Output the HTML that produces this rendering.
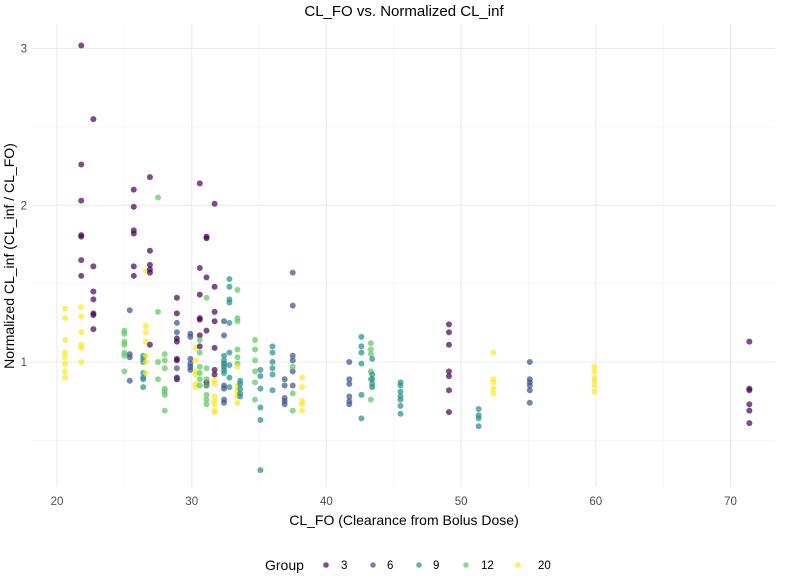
<!DOCTYPE html>
<html><head><meta charset="utf-8"><style>
body{margin:0;background:#fff;}
svg{font-family:"Liberation Sans",sans-serif;}
</style></head><body>
<svg id="chart" width="785" height="574" viewBox="0 0 785 574" xmlns="http://www.w3.org/2000/svg">
<text x="404" y="16" text-anchor="middle" font-size="15" fill="#000">CL_FO vs. Normalized CL_inf</text>
<g id="grid"></g>
<g id="pts"></g>
<g id="axes"></g>
<text x="404" y="525" text-anchor="middle" font-size="14" fill="#000">CL_FO (Clearance from Bolus Dose)</text>
<text transform="translate(14,256) rotate(-90)" text-anchor="middle" font-size="14" fill="#000">Normalized CL_inf (CL_inf / CL_FO)</text>
<g id="legend">
<text x="265" y="570" font-size="14" fill="#000">Group</text>
</g>
</svg>
<script>
const groupLabels=[3,6,9,12,20];
const groupColors=["#440154","#3b528b","#21908c","#5dc863","#fde725"];
const xTicks=[20,30,40,50,60,70];
const yTicks=[1,2,3];
const colX=[20.6,21.8,21.8,22.7,25,25.4,25.7,26.4,26.6,26.9,27.5,28,28.9,28.9,29.9,30.3,30.6,30.6,31.1,31.1,31.7,31.7,32.4,32.4,32.8,33.4,33.4,33.6,34.7,35.1,36,36.9,37.5,37.5,38.2,41.7,42.6,43.3,43.4,45.5,49.1,51.3,52.4,55.1,59.9,71.4];
const colGroup=[20,3,20,3,12,6,3,9,20,3,12,12,3,6,6,20,3,12,3,12,3,20,6,9,9,12,20,9,12,9,9,6,6,12,20,6,9,12,9,9,3,9,20,6,20,3];
const colYs=[
[1.34,1.28,1.14,1.06,1.03,0.99,0.94,0.9],
[3.02,2.26,2.03,1.81,1.8,1.65,1.55],
[1.35,1.29,1.19,1.11,1.09,1.0],
[2.55,1.61,1.45,1.4,1.31,1.3,1.21],
[1.2,1.18,1.13,1.11,1.06,1.04,0.94],
[1.33,1.05,1.03,0.88],
[2.1,1.99,1.84,1.82,1.61,1.55],
[1.04,1.02,1.0,0.93,0.9,0.89,0.84],
[1.58,1.23,1.19,1.13,1.04,1.0,0.93],
[2.18,1.71,1.62,1.59,1.57,1.11],
[2.05,1.32,1.0,0.89],
[1.05,1.01,0.96,0.83,0.81,0.79,0.69],
[1.41,1.31,1.15,1.13,1.02,1.01,0.9,0.89],
[1.25,1.19,0.96,0.89],
[1.18,1.16,1.02,0.99,0.97,0.95],
[1.09,1.01,0.94,0.92,0.86,0.84],
[2.14,1.6,1.43,1.28,1.27,1.17,1.1],
[1.14,1.06,0.97,0.93,0.89,0.85],
[1.8,1.79,1.54,1.2,0.87,0.85],
[1.41,0.96,0.89,0.85,0.79,0.76,0.73],
[2.01,1.48,1.32,1.26,1.09,0.95,0.92],
[0.88,0.86,0.78,0.75,0.73,0.69,0.68],
[1.26,1.17,0.99,0.85,0.83,0.76,0.74],
[1.04,1.01,0.97,0.95,0.93],
[1.53,1.48,1.4,1.38,1.25,1.06,0.98,0.9,0.84],
[1.46,1.28,1.26,1.08,1.03,0.99],
[0.97,0.85,0.82,0.8,0.78,0.74],
[0.88,0.86,0.83,0.8,0.78],
[1.14,1.08,1.01,0.94,0.87,0.76],
[0.95,0.91,0.83,0.71,0.63,0.31],
[1.1,1.06,1.0,0.96,0.92,0.82],
[0.89,0.85,0.77,0.75,0.73],
[1.57,1.36,1.04,1.01,0.94,0.85],
[0.97,0.8,0.69],
[0.9,0.84,0.75,0.73,0.69],
[1.0,0.89,0.86,0.78,0.75,0.73],
[1.16,1.1,1.06,0.99,0.79,0.64],
[1.12,1.08,1.05,0.94,0.89,0.76],
[1.02,0.92,0.89,0.86,0.84],
[0.87,0.85,0.81,0.78,0.76,0.72,0.67],
[1.24,1.19,1.11,0.94,0.91,0.82,0.68],
[0.7,0.66,0.64,0.59],
[1.06,0.89,0.87,0.83,0.8],
[1.0,0.89,0.87,0.85,0.82,0.74],
[0.97,0.94,0.9,0.88,0.85,0.81],
[1.13,0.83,0.82,0.73,0.69,0.61]
];
const NS="http://www.w3.org/2000/svg";
const L=32,R=775,T=24,B=487;
function sx(v){return 57+(v-20)*13.47;}
function sy(v){return 362-(v-1)*156.7;}
function mk(tag,attrs,parent){const e=document.createElementNS(NS,tag);for(const k in attrs)e.setAttribute(k,attrs[k]);parent.appendChild(e);return e;}
const grid=document.getElementById('grid'),axes=document.getElementById('axes'),pts=document.getElementById('pts'),leg=document.getElementById('legend');
for(let i=0;i<xTicks.length-1;i++){const v=(xTicks[i]+xTicks[i+1])/2;
 const l=mk('line',{x1:sx(v),x2:sx(v),y1:T,y2:B,stroke:'#f2f2f2','stroke-width':0.6},grid);
 }
for(const v of [0.5,1.5,2.5]){const l=mk('line',{x1:L,x2:R,y1:sy(v),y2:sy(v),stroke:'#f2f2f2','stroke-width':0.6},grid);
 }
for(const v of xTicks){const l=mk('line',{x1:sx(v),x2:sx(v),y1:T,y2:B,stroke:'#ebebeb','stroke-width':1.1},grid);
 
 const t=mk('text',{x:sx(v),y:505,'text-anchor':'middle','font-size':11.5,fill:'#4d4d4d'},axes);t.textContent=v;
 }
for(const v of yTicks){const l=mk('line',{x1:L,x2:R,y1:sy(v),y2:sy(v),stroke:'#ebebeb','stroke-width':1.1},grid);
 
 const t=mk('text',{x:27,y:sy(v)+4,'text-anchor':'end','font-size':11.5,fill:'#4d4d4d'},axes);t.textContent=v;
 }
colX.forEach((x,i)=>{const gi=groupLabels.indexOf(colGroup[i]);
 colYs[i].forEach(y=>{const c=mk('circle',{cx:sx(x),cy:sy(y),r:3,fill:groupColors[gi],'fill-opacity':0.7},pts);
  
  });});
const legDotX=[326,373,419,466,518],legTxtX=[341,387,433,481,538];
groupLabels.forEach((g,i)=>{const c=mk('circle',{cx:legDotX[i],cy:565,r:2.8,fill:groupColors[i],'fill-opacity':0.7},leg);
 
 const t=mk('text',{x:legTxtX[i],y:569,'font-size':11.5,fill:'#000'},leg);t.textContent=g;
 });
</script>
</body></html>
